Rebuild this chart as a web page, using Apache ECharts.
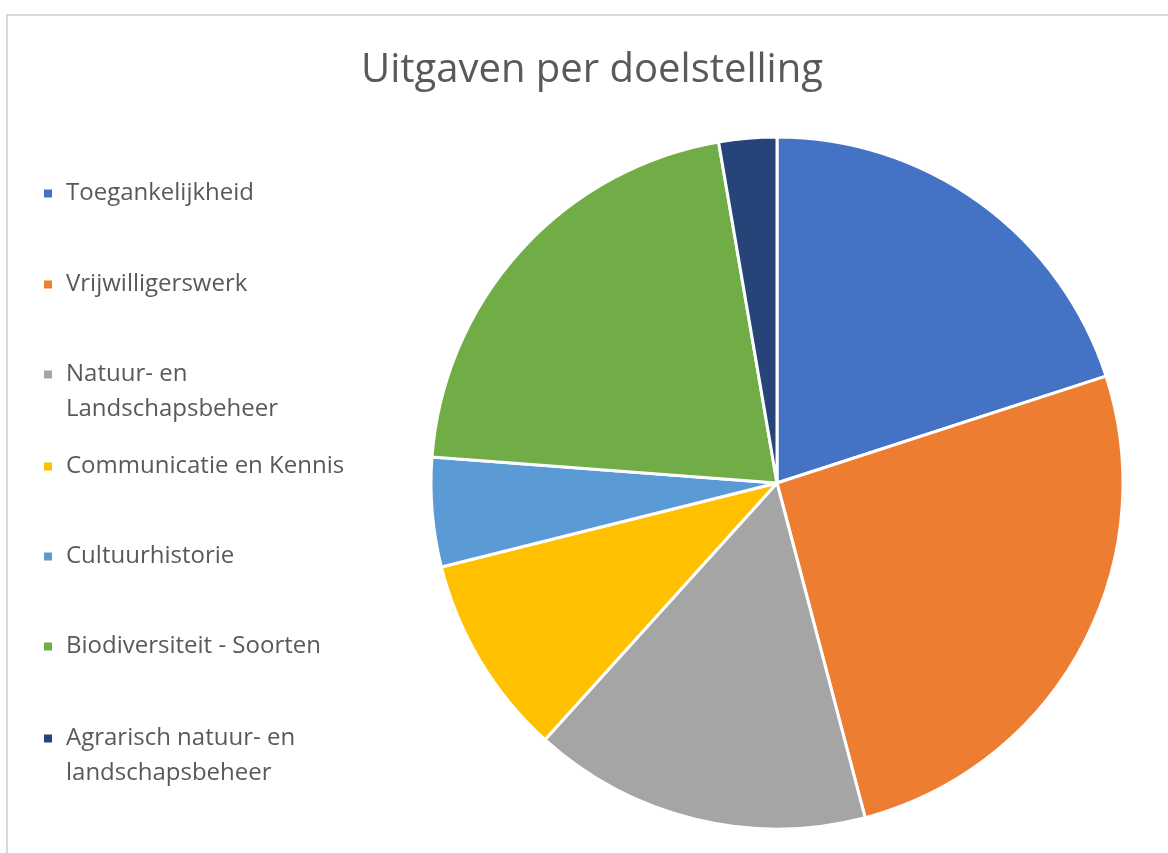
<!DOCTYPE html>
<html>
<head>
<meta charset="utf-8">
<script src="https://cdn.jsdelivr.net/npm/echarts@6/dist/echarts.min.js"></script>
<style>
html,body{margin:0;padding:0;background:#fff;}
#frame{position:absolute;left:6px;top:14px;width:1200px;height:900px;border-top:2px solid #d9d9d9;border-left:2px solid #d9d9d9;}
#chart{position:absolute;left:0;top:0;width:1168px;height:853px;}
</style>
</head>
<body>
<div id="frame"></div>
<div id="chart"></div>
<script>
const title = 'Uitgaven per doelstelling';
const categories = ['Toegankelijkheid', 'Vrijwilligerswerk', 'Natuur- en\nLandschapsbeheer', 'Communicatie en Kennis', 'Cultuurhistorie', 'Biodiversiteit - Soorten', 'Agrarisch natuur- en\nlandschapsbeheer'];
const values = [20.0, 25.9, 15.8, 9.4, 5.1, 21.1, 2.7];
const colors = ['#4472C4', '#ED7D31', '#A5A5A5', '#FFC000', '#5B9BD5', '#70AD47', '#264478'];

const chart = echarts.init(document.getElementById('chart'), null, {renderer: 'canvas'});
const legendTops = [171, 262, 352, 444, 534, 624, 716];
const legends = categories.map((c, i) => {
  const twoLine = c.indexOf('\n') >= 0;
  return {
    orient: 'vertical',
    left: 39,
    top: legendTops[i],
    data: [{name: c, icon: twoLine ? 'path://M0,0L8,0L8,8L0,8Z M0,43L0,43' : 'rect'}],
    itemWidth: 8,
    itemHeight: twoLine ? 43 : 8,
    itemGap: 0,
    selectedMode: false,
    itemStyle: {borderWidth: 0},
    textStyle: {fontFamily: 'Open Sans', fontSize: 24, color: '#595959', lineHeight: 35, padding: [0, 0, 0, 9]}
  };
});

chart.setOption({
  animation: false,
  color: colors,
  title: {
    text: title,
    left: 593,
    textAlign: 'center',
    top: 46,
    textStyle: {fontFamily: 'Open Sans', fontWeight: 'normal', fontSize: 40, color: '#595959'}
  },
  legend: legends,
  series: [{
    type: 'pie',
    center: [777, 483],
    radius: [0, 346],
    startAngle: 90,
    clockwise: true,
    label: {show: false},
    labelLine: {show: false},
    itemStyle: {borderColor: '#ffffff', borderWidth: 3},
    emphasis: {disabled: true},
    data: categories.map((c, i) => ({name: c, value: values[i]}))
  }]
});
chart.setOption({title: {left: 587}});
</script>
</body>
</html>
